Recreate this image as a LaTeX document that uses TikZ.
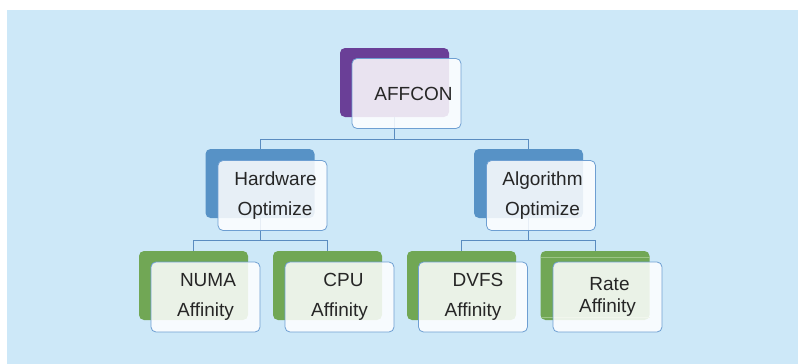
\documentclass[tikz,border=0pt]{standalone}
\usepackage{fontspec}
\setmainfont{Liberation Sans}
\definecolor{bgblue}{HTML}{CDE8F8}
\definecolor{rootpurple}{HTML}{6A3F97}
\definecolor{midblue}{HTML}{5792C6}
\definecolor{leafgreen}{HTML}{71A755}
\definecolor{lightgreen}{HTML}{9CC585}
\definecolor{edgeblue}{HTML}{6E9FD2}
\definecolor{linkblue}{HTML}{5A8CC0}
\definecolor{txt}{HTML}{262626}
\tikzset{
  backbox/.style={rectangle, rounded corners=5pt, minimum width=109pt, minimum height=69pt, inner sep=0pt, outer sep=0pt},
  frontbox/.style={rectangle, rounded corners=5pt, minimum width=109pt, minimum height=70pt, inner sep=0pt, outer sep=0pt,
    fill=white, fill opacity=0.86, text opacity=1, draw=edgeblue, draw opacity=1, line width=0.8pt,
    text=txt, align=center, font=\fontsize{19}{30}\selectfont},
  tightbox/.style={frontbox, font=\fontsize{19}{21.5}\selectfont},
  link/.style={draw=linkblue, line width=0.8pt}
}
\begin{document}
\begin{tikzpicture}[x=1pt, y=-1pt]
\useasboundingbox (0,0) rectangle (798,364);
\fill[bgblue] (7,10) rectangle (798,364);

% back boxes
\node[backbox, fill=rootpurple] (rootb) at (394.5,82.5) {};
\node[backbox, fill=midblue] (hwb) at (260,183.5) {};
\node[backbox, fill=midblue] (algb) at (528.5,183.5) {};
\node[backbox, fill=leafgreen] (numab) at (193.5,285.5) {};
\node[backbox, fill=leafgreen] (cpub) at (327.5,285.5) {};
\node[backbox, fill=leafgreen] (dvfsb) at (461.5,285.5) {};
\node[backbox, fill=leafgreen] (rateb) at (595,285.5) {};
\draw[lightgreen, line width=1pt] ([yshift=-6.5pt]rateb.north west) -- ([yshift=-6.5pt]rateb.north east);
\draw[lightgreen, line width=1pt] ([yshift=3pt]rateb.south west) -- ([yshift=3pt]rateb.south east);

% junctions
\coordinate (j0) at (394.5,139);
\coordinate (j1) at (260,240);
\coordinate (j2) at (528.5,240);

% connectors
\draw[link] (rootb.south) -- (j0);
\draw[link] (j0) -| (hwb.north);
\draw[link] (j0) -| (algb.north);
\draw[link] (hwb.south) -- (j1);
\draw[link] (j1) -| (numab.north);
\draw[link] (j1) -| (cpub.north);
\draw[link] (algb.south) -- (j2);
\draw[link] (j2) -| (dvfsb.north);
\draw[link] (j2) -| (rateb.north);

% front boxes
\node[frontbox] (root) at (406.5,93.5) {\hspace*{14pt}AFFCON};
\node[frontbox] (hw) at (272.5,195.5) {\hspace*{6pt}Hardware\\\hspace*{5pt}Optimize};
\node[frontbox] (alg) at (541,195.5) {\hspace*{3pt}Algorithm\\\hspace*{3pt}Optimize};
\node[frontbox] (numa) at (205.5,297) {\hspace*{5pt}NUMA\\Affinity};
\node[frontbox] (cpu) at (339.5,297) {\hspace*{8pt}CPU\\Affinity};
\node[frontbox] (dvfs) at (473,297) {\hspace*{10pt}DVFS\\Affinity};
\node[tightbox] (rate) at (607.5,297) {\hspace*{4pt}Rate\\Affinity};
\end{tikzpicture}
\end{document}
